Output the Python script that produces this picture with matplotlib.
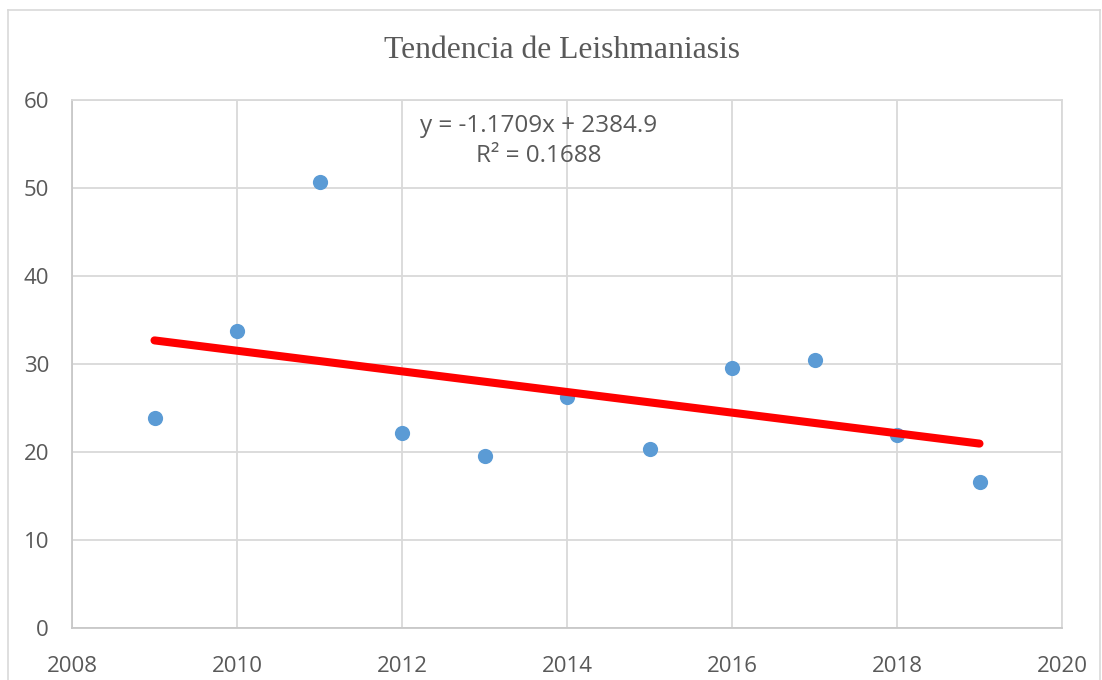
import numpy as np
import matplotlib.pyplot as plt
from matplotlib.lines import Line2D

# datos (casos por año)
years = [2009, 2010, 2011, 2012, 2013, 2014, 2015, 2016, 2017, 2018, 2019]
cases = [23.9, 33.7, 50.7, 22.2, 19.5, 26.2, 20.3, 29.6, 30.4, 21.9, 16.6]
x_ticks = [2008, 2010, 2012, 2014, 2016, 2018, 2020]
y_ticks = [0, 10, 20, 30, 40, 50, 60]
title = "Tendencia de Leishmaniasis"
eq_text = "y = -1.1709x + 2384.9\nR² = 0.1688"

grid_c = '#d9d9d9'
txt_c = '#595959'

fig = plt.figure(figsize=(11.02, 6.8), dpi=100)
ax = fig.add_axes([72/1102, 52/680, 990/1102, 528/680])

# borde del área del gráfico
fig.add_artist(Line2D([8/1102, 8/1102], [0, 1 - 10/680], color=grid_c, lw=1.2, transform=fig.transFigure))
fig.add_artist(Line2D([8/1102, 1100/1102], [1 - 10/680, 1 - 10/680], color=grid_c, lw=1.2, transform=fig.transFigure))
fig.add_artist(Line2D([1100/1102, 1100/1102], [0, 1 - 10/680], color=grid_c, lw=1.2, transform=fig.transFigure))

ax.scatter(years, cases, s=120, color='#5b9bd5', zorder=3, linewidths=0)

# linea de tendencia
coef = np.polyfit(years, cases, 1)
xs = np.array([years[0], years[-1]])
ax.plot(xs, np.polyval(coef, xs), color='#ff0000', lw=5.8, solid_capstyle='round', zorder=4)

ax.set_xlim(2008, 2020)
ax.set_ylim(0, 60)
ax.set_xticks(x_ticks)
ax.set_yticks(y_ticks)
ax.grid(True, color=grid_c, lw=1.3)
ax.set_axisbelow(True)
for s in ax.spines.values():
    s.set_color(grid_c)
    s.set_linewidth(1.3)
ax.spines['bottom'].set_color('#c8c8c8')
ax.spines['left'].set_color('#c8c8c8')
ax.tick_params(length=0, labelsize=16, labelcolor=txt_c)
for lab in ax.get_xticklabels() + ax.get_yticklabels():
    lab.set_family('Open Sans')
ax.tick_params(axis='x', pad=20)
ax.tick_params(axis='y', pad=16.5)

fig.text(539/1102, 1 - 141/680, eq_text, ha='center', va='center', fontsize=17.5,
         family='Open Sans', color=txt_c, linespacing=1.35)

fig.text(562/1102, 1 - 50/680, title, ha='center', va='center', fontsize=22.8,
         family='Liberation Serif', color=txt_c)

fig.savefig('out.png', dpi=100)
